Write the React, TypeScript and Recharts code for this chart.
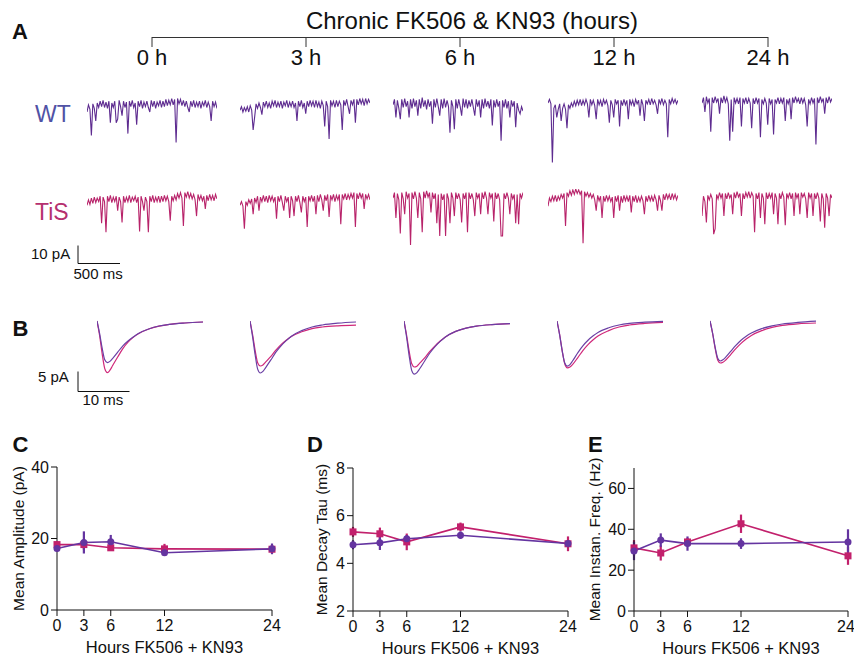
import React from 'react';
import { LineChart, Line, XAxis, YAxis, ErrorBar } from 'recharts';

// timeline
const HOURS = [0, 3, 6, 12, 24];
const HOUR_LABELS = ['0 h', '3 h', '6 h', '12 h', '24 h'];

// example mEPSC traces (pA, 0 = baseline)
const WT_0H = [-4, 0, -2.5, -17, 0.5, -2, -9, 1, -1.5, 2, -1, 2.5, -1.5, 1.5, -2, 2, -10, 1, -1.5, 2, -10, -8, 2.5, -1, -6, 2, -1.5, 1.5, -16, 2, -1, 2.5, -1.5, 1, -11, 2, -1, 2.5, -2, 1.5, -1, 2, -1.5, -4, 2.5, -1, 2, -2, 1.5, -0.5, 2.5, -1.5, 2, -1, 3, -0.5, 2.5, 0, 3.5, 0, 3, -21, 3.5, 0.5, 3, -0.5, 2.5, -1, 2, -1.5, -4, 2, -1, 2.5, -1.5, 1.5, -1, 2, -2, 1.5, -0.5, 2.5, -1.5, 1.5, -1, -9, 2, -1, 1.5, -2];
const WT_3H = [-3, -1, -4, -1.5, -3.5, -1, -4, -0.5, -3, -14, -7, 0.5, -2, 1, -1.5, -5.5, 1.5, -1, 2, -1.5, 1, -2, 2, -0.5, 2.5, -1.5, 1.5, -1, 2, -2, 1.5, -0.5, 2.5, -1.5, 1.5, -1, 2, -1.5, 1, -9, 2, -1, 2.5, -1.5, 1, -5, 2, -1, 2.5, -0.5, 2, -1.5, 2.5, -1, 1.5, -2, 2, -0.5, -12, 2, -1, -19, 2.5, -0.5, 2, -1.5, 2.5, -1, 2, 0, -14, 2.5, -0.5, 3, -1, -5, 2.5, 0, 3, -10, 3, 0, 3.5, 0.5, 3, -0.5, 3.5, 0.5, 3, 1];
const WT_6H = [0, 3, -7, 2.5, -2, -8, 3, -1.5, 3.5, -1, 2, -7, 3, -2, 3.5, -1, 2.5, -6, 3, -2, 4, -1, 2.5, -2.5, 3, -1, 2, -10.5, 3, -1.5, 3.5, -1, -6, 3, -2, 3.5, -1.5, 2.5, -1, -15.5, 2.5, -1, -13.5, 3, -2, 3, -1, -6, 3.5, -1.5, 3, -2, 2.5, -1, 3, -1.5, -6, 3, -1, 2.5, -7, 3, -2, 3.5, -1, 2, -2, 3, -11.5, 2.5, -1.5, 3, -1, 2, -20, 2.5, -1.5, 3, -2, 2, -7, 2.5, -1, 2, -12.5, 1, -3, -5, -1, -3.5];
const WT_12H = [1, 3, 0.5, -32, -2, 0, -7, -2.5, 0.5, -9, -2, 0.5, -2.5, -13, 0, -2, 1, -1, 2, -0.5, 2.5, 0, 3, -0.5, 2.5, 0, 3, 0.5, -7, 3, 0, 2.5, -0.5, -8, 3, 0, 2.5, -1, 3, 0.5, 2.5, -0.5, -10, 2.5, 0, -7, 3, 0.5, 2.5, -12, 2.5, -0.5, 3, 0, 2.5, -8, 3, 0, 2.5, -1, 3, 0.5, 2.5, -6, 3, 0, -9, 2.5, 0.5, 3, 0, 3.5, 0.5, 2.5, 0, -5, 3, 0.5, 3.5, 0, 2.5, 0.5, -18, 3, 0.5, 3.5, 1, 3, 0.5, 2.5];
const WT_24H = [1, 4, -4, 4.5, 1, 3.5, -15, 4, 1, 4.5, 1.5, 3.5, -5, 4, 1, 5, 1.5, 4, 0.5, -20, 3, -15, 4, 1, 3.5, 0.5, 4, -12, 3.5, 1, 4, 0.5, 3.5, 1, -13, 3.5, 0.5, 4, 1, 3.5, -18, 3, 0.5, 3.5, 1, -11, 3.5, 0.5, 3, -16.5, 3, 1, 4, 0.5, 3.5, 1, 4, -9, 3, 0.5, 3.5, -8, 4, 1, 4.5, 1.5, 3.5, 0.5, 4, 1, 3.5, 0, -12, 3, 0.5, 4, 1, 3.5, -22, 4, 1, 4.5, 1.5, 3.5, -5, 4, 1, 4.5, 1.5, 3.5];

const TIS_0H = [-3, 0, -2.5, 1, -2, 1.5, -1.5, 1, -1, 2, -13, 1.5, -1, -18, 2, -1, 2.5, -1.5, 1.5, -1, 2, -6, 1.5, -1, -12.5, 2, -1.5, 1.5, -1, 2.5, -1.5, 1.5, -0.5, 2, -1.5, 1.5, -17.5, 2, -1, -6, 1.5, -1, -18, 2, -1, 2.5, -1.5, 1.5, -1, 2, -1.5, 2, -1, 2.5, -0.5, 2, -1, -11.5, 2, -0.5, 2.5, 0, 3.5, 1, 4, 1, -14.5, 4, 1.5, 4.5, 1, 3.5, 0.5, 3, 0, -9, 3, 0, 2.5, -0.5, 2, -5, 2.5, -0.5, 3, 0, 2.5, -0.5, 3, 0.5];
const TIS_3H = [-3, -1, -3.5, -16, -1, -3, 0, -2, 0.5, -8, 1, -1.5, 2, -6, 1.5, -1, 2.5, -1, 2, -1.5, 2.5, -0.5, 2, -1, 1.5, -10.5, 2, -1, 2.5, -1.5, -6, 2, -1, 1.5, -10, 2, -0.5, -9, 2, -1, 2.5, -1.5, -7, 2, -1, 1.5, -15, 2, -0.5, 2.5, -1, 2, -8, 2.5, -1, 3, 0, -6, 2.5, -0.5, 3, -9.5, 2.5, 0, 3, -1, 2.5, 0, 3, -13.5, 3, 0.5, 3.5, 0, 3, 0.5, 3.5, 1, 4, -15, 3.5, 0.5, 4, 1, 3.5, -5, 3, 0.5, 3, 0];
const TIS_6H = [1, 4, -10, 3.5, 0, -18.7, 4, 0.5, -8, 4.5, 1, 3.5, -25, 4, 0.5, 4.5, 1, -10, 4, 0.5, -18, 4.5, 1, 5, 1.5, 4, -7, 4, 0.5, 3.5, -13, 3, -20, 3.5, 0, 3, -20, 3.5, 0.5, -13, 4, 1, -9, 4, 0.5, 3.5, 0, -12.5, 3.5, 0.5, 4, -18, 4, 0.5, 3.5, 0, -9, 4, 1, 3.5, -8, 4, 0.5, 4.5, 1, -8, 4, 1, 3.5, -12, 4, 0.5, 3.5, 0, -20, -20, 3.5, 0.5, 4, 1, -8, 3.5, 0.5, 3, -13, 3, -13.5, 3.5, 1, 4];
const TIS_12H = [-3.5, 1, -1, 2, -0.5, 2.5, -1, 2, 0, 3, 1, 3.5, -14.5, 4, 2, 5, 2.5, 5.5, 3, 6, 3.5, 5.5, 3, 5, -24, 4.5, 2, 4, 1.5, 3.5, 1, 3, 0, -6, 2.5, -0.5, 2, -10, 2, -1, 2.5, -0.5, 2, -1, 1.5, -10, 2, -1, 2.5, -6, 2, -1.5, 2.5, -0.5, 2, -1, 2.5, -7, 2, -1, 2.5, -1.5, 1.5, -1, 2, -0.5, -8, 2, -1, 2.5, -0.5, 2, -1, 2.5, 0, -6, 2.5, -0.5, -6, 3, 0, 3.5, 0.5, 3, 0, 3.5, 0.5, 3, 0, 2.5];
const TIS_24H = [-9, 2, -1, -12.5, 2.5, 0, 3, 0.5, -19, -16, 3, 0.5, 4, 1, 3.5, -9, 3.5, 0.5, 4, 1, 3, -8, 4, 1, 4.5, 1.5, 3.5, -9, 3.5, 0.5, 4, 1.5, 4.5, 1, 4, 2, -18, 3.5, 0.5, 4, -10, 3.5, 1, -13.5, 4, 0.5, 3.5, 1, 4, -8, 3.5, 1, -13.5, 3.5, 0.5, 4, 1.5, -14, 3.5, 1, 4, 0.5, 3.5, -9, 4, 1, 3.5, -8, 4, 1.5, 3.5, 0.5, -10, 4, 1, 3.5, -9, 3.5, 0.5, 4, 1, -12, 3.5, 0.5, -15.5, 3.5, 1, -9, 3, 1];

// averaged events (ms, pA)
const EVENT_T = [0, 0.5, 1, 1.5, 2, 2.5, 3, 4, 5, 6, 7, 8, 10, 12, 14, 17, 20.5];
const EV_WT_0H = [0, -3.1, -6.8, -9.7, -10.4, -10.1, -9.4, -7.8, -6.2, -5.0, -4.0, -3.1, -2.0, -1.25, -0.85, -0.5, -0.25];
const EV_TIS_0H = [0, -3.6, -8.2, -11.9, -12.9, -12.3, -11.2, -9.0, -6.9, -5.3, -4.1, -3.2, -2.0, -1.3, -0.85, -0.5, -0.25];
const EV_WT_3H = [0, -3.9, -8.5, -12.1, -13.0, -12.6, -11.7, -9.8, -7.8, -6.2, -4.9, -3.8, -2.4, -1.5, -1.0, -0.55, -0.25];
const EV_TIS_3H = [0, -3.4, -7.4, -10.5, -11.25, -11.0, -10.3, -8.9, -7.3, -5.9, -4.8, -3.9, -2.7, -1.9, -1.5, -1.2, -1.05];
const EV_WT_6H = [0, -4.0, -8.7, -12.4, -13.3, -12.9, -12.0, -10.0, -8.0, -6.4, -5.1, -4.0, -2.6, -1.8, -1.3, -0.9, -0.65];
const EV_TIS_6H = [0, -3.5, -7.6, -10.7, -11.5, -11.3, -10.6, -9.2, -7.6, -6.2, -5.0, -4.0, -2.6, -1.8, -1.3, -0.9, -0.65];
const EV_WT_12H = [0, -3.4, -7.4, -10.5, -11.3, -10.9, -10.0, -8.0, -6.2, -4.8, -3.7, -2.8, -1.7, -1.0, -0.6, -0.3, -0.1];
const EV_TIS_12H = [0, -3.3, -7.4, -10.7, -11.7, -11.5, -10.9, -9.2, -7.4, -5.9, -4.7, -3.7, -2.4, -1.5, -1.0, -0.6, -0.35];
const EV_WT_24H = [0, -3.0, -6.6, -9.3, -10.0, -9.7, -9.1, -7.6, -6.1, -4.8, -3.8, -3.0, -1.9, -1.2, -0.75, -0.35, -0.05];
const EV_TIS_24H = [0, -3.1, -6.9, -9.8, -10.5, -10.3, -9.8, -8.4, -6.9, -5.6, -4.5, -3.6, -2.4, -1.6, -1.1, -0.7, -0.5];

// summary stats (mean, sem) per time point
const AMP_WT = [17.2, 18.9, 19.1, 16.0, 17.1];
const AMP_WT_ERR = [0.9, 3.1, 1.9, 0.7, 1.5];
const AMP_TIS = [18.3, 18.3, 17.4, 17.1, 17.0];
const AMP_TIS_ERR = [0.9, 1.4, 0.8, 1.4, 0.9];

const TAU_WT = [4.78, 4.86, 5.03, 5.18, 4.83];
const TAU_WT_ERR = [0.19, 0.3, 0.16, 0.16, 0.15];
const TAU_TIS = [5.32, 5.24, 4.9, 5.53, 4.82];
const TAU_TIS_ERR = [0.21, 0.26, 0.35, 0.18, 0.31];

const FREQ_WT = [29.4, 34.7, 33.0, 33.0, 33.8];
const FREQ_WT_ERR = [4.5, 3.3, 3.5, 2.6, 6.2];
const FREQ_TIS = [30.9, 28.4, 33.8, 42.7, 27.0];
const FREQ_TIS_ERR = [3.8, 3.7, 2.0, 4.5, 4.4];

const WT_TRACE = '#5e2c90';
const TIS_TRACE = '#b8236a';
const WT_EV = '#6a3fa4';
const TIS_EV = '#d0287a';
const WT_DOT = '#6434a0';
const TIS_DOT = '#c2206c';
const INK = '#111';
const FONT = "'Liberation Sans', Arial, Helvetica, sans-serif";

const TRACE_X = [87, 240, 393, 548, 702];
const TRACE_W = 130;

const Trace = ({ values, color, left, top, height, domain }: any) => {
  const data = values.map((v: number, i: number) => ({ i, v }));
  return (
    <div style={{ position: 'absolute', left, top }}>
      <LineChart width={TRACE_W} height={height} data={data} margin={{ top: 0, right: 0, bottom: 0, left: 0 }}>
        <XAxis dataKey="i" type="number" domain={[0, values.length - 1]} hide />
        <YAxis type="number" domain={domain} hide />
        <Line dataKey="v" type="linear" stroke={color} strokeWidth={1.1} dot={false} isAnimationActive={false} />
      </LineChart>
    </div>
  );
};

const EventPanel = ({ left, wt, tis }: any) => {
  const data = EVENT_T.map((t, i) => ({ t, wt: wt[i], tis: tis[i] }));
  return (
    <div style={{ position: 'absolute', left, top: 317 }}>
      <LineChart width={106} height={64} data={data} margin={{ top: 0, right: 0, bottom: 0, left: 0 }}>
        <XAxis dataKey="t" type="number" domain={[0, 20.5]} hide />
        <YAxis type="number" domain={[-15, 1]} hide />
        <Line dataKey="tis" type="monotone" stroke={TIS_EV} strokeWidth={1.2} dot={false} isAnimationActive={false} />
        <Line dataKey="wt" type="monotone" stroke={WT_EV} strokeWidth={1.2} dot={false} isAnimationActive={false} />
      </LineChart>
    </div>
  );
};

const squareDot = (color: string) => (props: any) => {
  const { cx, cy, index } = props;
  if (cx == null || cy == null) return <g key={`e${index}`} />;
  return <rect key={`s${index}`} x={cx - 3.5} y={cy - 3.5} width={7} height={7} fill={color} />;
};

const Summary = ({ left, top, width, marginRight, domain, ticks, title, titleGap, wt, wtErr, tis, tisErr }: any) => {
  const data = HOURS.map((h, i) => ({ h, wt: wt[i], wtErr: wtErr[i], tis: tis[i], tisErr: tisErr[i] }));
  const yTitle = (p: any) => {
    const vb = p.viewBox;
    if (!vb) return null;
    const x = vb.x + vb.width - titleGap;
    const y = vb.y + vb.height / 2;
    return (
      <text x={x} y={y} transform={`rotate(-90 ${x} ${y})`} textAnchor="middle" dominantBaseline="central" fontSize={15.5} fill={INK}>
        {title}
      </text>
    );
  };
  return (
    <div style={{ position: 'absolute', left, top }}>
      <LineChart width={width} height={201} data={data} margin={{ top: 12, right: marginRight, bottom: 0, left: 0 }}>
        <XAxis
          dataKey="h"
          type="number"
          domain={[0, 24]}
          ticks={HOURS}
          height={46}
          tickSize={6}
          tickMargin={4}
          stroke={INK}
          tick={{ fontSize: 16, fill: INK }}
          label={{ value: 'Hours FK506 + KN93', position: 'insideBottom', offset: 3, fontSize: 16.5, fill: INK }}
        />
        <YAxis
          type="number"
          domain={domain}
          ticks={ticks}
          width={57}
          tickSize={6}
          tickMargin={2}
          stroke={INK}
          tick={{ fontSize: 16, fill: INK }}
          label={yTitle}
        />
        <Line dataKey="tis" type="linear" stroke={TIS_DOT} strokeWidth={1.6} dot={squareDot(TIS_DOT)} isAnimationActive={false}>
          <ErrorBar dataKey="tisErr" width={0} strokeWidth={2.2} stroke={TIS_DOT} direction="y" />
        </Line>
        <Line dataKey="wt" type="linear" stroke={WT_DOT} strokeWidth={1.6} dot={{ r: 3.5, fill: WT_DOT, stroke: WT_DOT, strokeWidth: 0 }} isAnimationActive={false}>
          <ErrorBar dataKey="wtErr" width={0} strokeWidth={2.2} stroke={WT_DOT} direction="y" />
        </Line>
      </LineChart>
    </div>
  );
};

const WT_ROW = [WT_0H, WT_3H, WT_6H, WT_12H, WT_24H];
const TIS_ROW = [TIS_0H, TIS_3H, TIS_6H, TIS_12H, TIS_24H];
const EV_WT = [EV_WT_0H, EV_WT_3H, EV_WT_6H, EV_WT_12H, EV_WT_24H];
const EV_TIS = [EV_TIS_0H, EV_TIS_3H, EV_TIS_6H, EV_TIS_12H, EV_TIS_24H];
const EVENT_X = [97, 249.5, 404, 556.5, 710];

export default function App() {
  const timeline = HOUR_LABELS.map((l, k) => ({ k, l }));
  return (
    <div
      style={{
        position: 'absolute',
        left: 0,
        top: 0,
        width: 854,
        height: 656,
        overflow: 'hidden',
        background: '#fff',
        fontFamily: FONT,
      }}
    >
      {/* timeline axis: ticks and labels from recharts, baseline drawn in the overlay */}
      <div style={{ position: 'absolute', left: 122, top: 0 }}>
        <LineChart width={676} height={90} data={timeline} margin={{ top: 0, right: 30, bottom: 0, left: 30 }}>
          <XAxis
            dataKey="k"
            type="number"
            domain={[0, HOUR_LABELS.length - 1]}
            ticks={timeline.map((d) => d.k)}
            tickFormatter={(k: number) => HOUR_LABELS[k]}
            interval={0}
            height={53}
            tickSize={10}
            tickMargin={2}
            axisLine={false}
            tickLine={{ stroke: '#333' }}
            tick={{ fontSize: 22, fill: INK }}
          />
          <YAxis hide />
        </LineChart>
      </div>

      {WT_ROW.map((v, i) => (
        <Trace key={`wt${i}`} values={v} color={WT_TRACE} left={TRACE_X[i]} top={94} height={72} domain={[-34, 6]} />
      ))}
      {TIS_ROW.map((v, i) => (
        <Trace key={`tis${i}`} values={v} color={TIS_TRACE} left={TRACE_X[i]} top={189} height={65} domain={[-30, 6]} />
      ))}
      {EV_WT.map((v, i) => (
        <EventPanel key={`ev${i}`} left={EVENT_X[i]} wt={v} tis={EV_TIS[i]} />
      ))}

      <Summary left={0} top={455} width={290} marginRight={18} domain={[0, 40]} ticks={[0, 20, 40]}
        title="Mean Amplitude (pA)" titleGap={39} wt={AMP_WT} wtErr={AMP_WT_ERR} tis={AMP_TIS} tisErr={AMP_TIS_ERR} />
      <Summary left={296} top={456} width={290} marginRight={18} domain={[2, 8]} ticks={[2, 4, 6, 8]}
        title="Mean Decay Tau (ms)" titleGap={31.5} wt={TAU_WT} wtErr={TAU_WT_ERR} tis={TAU_TIS} tisErr={TAU_TIS_ERR} />
      <Summary left={577} top={456} width={277} marginRight={6} domain={[0, 70]} ticks={[0, 20, 40, 60]}
        title="Mean Instan. Freq. (Hz)" titleGap={39.5} wt={FREQ_WT} wtErr={FREQ_WT_ERR} tis={FREQ_TIS} tisErr={FREQ_TIS_ERR} />

      {/* panel letters, labels, scale bars */}
      <svg width={854} height={656} style={{ position: 'absolute', left: 0, top: 0, pointerEvents: 'none' }}>
        <line x1={152} y1={37.5} x2={768} y2={37.5} stroke="#333" strokeWidth={1} />
        <g fontWeight="bold" fontSize={22} fill={INK}>
          <text x={12} y={38.5}>A</text>
          <text x={12.5} y={335.5}>B</text>
          <text x={12.5} y={452}>C</text>
          <text x={307} y={451.5}>D</text>
          <text x={588} y={452}>E</text>
        </g>
        <text x={472} y={28.5} textAnchor="middle" fontSize={24} fill={INK}>Chronic FK506 &amp; KN93 (hours)</text>
        <text x={35} y={121.5} fontSize={23} fill="#5052a5">WT</text>
        <text x={35} y={220} fontSize={23} fill="#b5306f">TiS</text>

        <g stroke={INK} strokeWidth={1} fill="none">
          <polyline points="78,245.5 78,263.5 120,263.5" />
          <polyline points="78,371.5 78,391.5 129.5,391.5" />
        </g>
        <g fontSize={15} fill={INK}>
          <text x={31} y={258.5}>10 pA</text>
          <text x={73.5} y={278.5}>500 ms</text>
          <text x={38} y={382}>5 pA</text>
          <text x={82.5} y={405}>10 ms</text>
        </g>
      </svg>
    </div>
  );
}
